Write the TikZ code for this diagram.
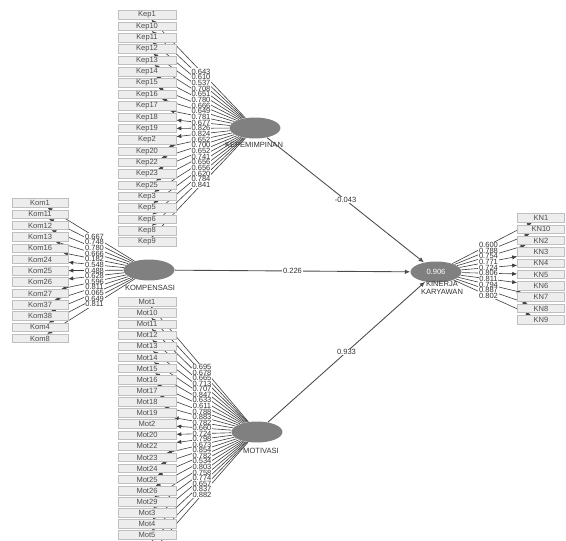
\documentclass[tikz,border=0pt]{standalone}
\usepackage{fontspec}
\setmainfont{Liberation Sans}
\usetikzlibrary{arrows.meta,calc,backgrounds,shapes.geometric}

\begin{document}
\begin{tikzpicture}[x=0.02cm,y=-0.02cm,
  ind/.style={draw=black!25,fill=black!7,text=black!70,minimum height=0.17cm,inner sep=0pt,font=\fontsize{4.3}{5}\selectfont},
  lat/.style={ellipse,fill=black!50,minimum width=1.02cm,minimum height=0.42cm,inner sep=0pt,text=white,font=\fontsize{4.3}{5}\selectfont},
  lbl/.style={font=\fontsize{4.3}{4.8}\selectfont,align=center,text=black!80},
  val/.style={font=\fontsize{4.3}{5}\selectfont,fill=white,inner sep=0.4pt,text=black!80},
  ld/.style={-{Latex[length=2.8pt,width=2.4pt]},draw=black!75,line width=0.35pt},
  pth/.style={-{Latex[length=3pt,width=2.6pt]},draw=black!70,line width=0.5pt},
]
\useasboundingbox (0,0) rectangle (566,541);
% latent variables
\node[lat] (kep) at (255,128) {};
\node[lbl] (kepn) at (254,145) {KEPEMIMPINAN};
\node[lat] (kom) at (149,270) {};
\node[lbl] (komn) at (150,288) {KOMPENSASI};
\node[lat] (mot) at (257,432) {};
\node[lbl] (motn) at (261,451) {MOTIVASI};
\node[lat] (kin) at (436,272) {0.906};
\node[lbl] (kinn) at (442,288) {KINERJA\\KARYAWAN};
% kepemimpinan indicators
\foreach \t/\v [count=\i] in {Kep1/0.643,Kep10/0.610,Kep11/0.537,Kep12/0.708,Kep13/0.651,Kep14/0.780,Kep15/0.666,Kep16/0.649,Kep17/0.781,Kep18/0.677,Kep19/0.826,Kep2/0.824,Kep20/0.652,Kep22/0.700,Kep23/0.652,Kep25/0.741,Kep3/0.656,Kep5/0.656,Kep6/0.620,Kep8/0.784,Kep9/0.841}{
  \node[ind,minimum width=1.16cm] (kep\i) at (147,{15+(\i-1)*11.35}) {\t};
  \begin{pgfonlayer}{background}
    \draw[ld] (kep) -- (kep\i);
  \end{pgfonlayer}
  \node[val] (kepv\i) at ($(kep)!0.5!(kep\i)$) {\v};
}
% kompensasi indicators
\foreach \t/\v [count=\i] in {Kom1/0.667,Kom11/0.748,Kom12/0.780,Kom13/0.666,Kom16/0.182,Kom24/0.548,Kom25/0.488,Kom26/0.628,Kom27/0.596,Kom37/0.811,Kom38/0.065,Kom4/0.649,Kom8/0.811}{
  \node[ind,minimum width=1.12cm] (kom\i) at (40,{203+(\i-1)*11.3}) {\t};
  \begin{pgfonlayer}{background}
    \draw[ld] (kom) -- (kom\i);
  \end{pgfonlayer}
  \node[val] (komv\i) at ($(kom)!0.5!(kom\i)$) {\v};
}
% motivasi indicators
\foreach \t/\v [count=\i] in {Mot1/0.695,Mot10/0.678,Mot11/0.665,Mot12/0.713,Mot13/0.707,Mot14/0.847,Mot15/0.633,Mot16/0.611,Mot17/0.788,Mot18/0.883,Mot19/0.782,Mot2/0.660,Mot20/0.724,Mot22/0.798,Mot23/0.673,Mot24/0.854,Mot25/0.782,Mot26/0.534,Mot29/0.803,Mot3/0.758,Mot4/0.774,Mot5/0.657}{
  \node[ind,minimum width=1.16cm] (mot\i) at (147,{302+(\i-1)*11.1}) {\t};
  \begin{pgfonlayer}{background}
    \draw[ld] (mot) -- (mot\i);
  \end{pgfonlayer}
  \node[val] (motv\i) at ($(mot)!0.5!(mot\i)$) {\v};
}
% indicators below the page edge
\foreach \v [count=\i from 23] in {0.837,0.882}{
  \coordinate (mot\i) at (147,{302+(\i-1)*11.1});
  \begin{pgfonlayer}{background}
    \draw[ld] (mot) -- (mot\i);
  \end{pgfonlayer}
  \node[val] (motv\i) at ($(mot)!0.5!(mot\i)$) {\v};
}
% kinerja indicators
\foreach \t/\v [count=\i] in {KN1/0.600,KN10/0.788,KN2/0.754,KN3/0.771,KN4/0.724,KN5/0.806,KN6/0.811,KN7/0.794,KN8/0.887,KN9/0.802}{
  \node[ind,minimum width=0.94cm] (kin\i) at (541,{218+(\i-1)*11.3}) {\t};
  \begin{pgfonlayer}{background}
    \draw[ld] (kin) -- (kin\i);
  \end{pgfonlayer}
  \node[val] (kinv\i) at ($(kin)!0.5!(kin\i)$) {\v};
}
% structural paths
\draw[pth] (kep) -- node[val] (p1) {-0.043} (kin);
\draw[pth] (kom) -- node[val] (p2) {0.226} (kin);
\draw[pth] (mot) -- node[val] (p3) {0.933} (kin);
\end{tikzpicture}
\end{document}
